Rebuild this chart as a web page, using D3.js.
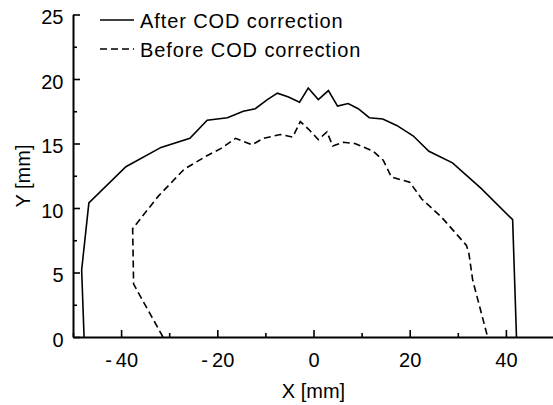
<!DOCTYPE html>
<html>
<head>
<meta charset="utf-8">
<script src="https://cdn.jsdelivr.net/npm/d3@7"></script>
<style>
  body { margin: 0; background: #fff; }
  svg { display: block; font-family: "Liberation Sans", Arial, sans-serif; }
</style>
</head>
<body>
<svg id="chart" width="553" height="405"></svg>
<script>
// values
var afterX = [-47.7, -48.2, -46.7, -39.0, -31.7, -25.7, -22.1, -17.9, -14.6, -12.1, -9.6, -7.5, -5.2, -2.9, -1.1, 1.0, 3.1, 5.0, 7.2, 9.3, 11.6, 14.4, 17.3, 20.7, 24.0, 28.9, 34.9, 41.4, 42.2];
var afterY = [0, 5.2, 10.4, 13.2, 14.7, 15.4, 16.8, 17.0, 17.5, 17.7, 18.4, 18.9, 18.6, 18.2, 19.3, 18.4, 19.1, 17.9, 18.1, 17.7, 17.0, 16.9, 16.4, 15.6, 14.4, 13.5, 11.5, 9.1, 0];
var beforeX = [-31.3, -37.4, -37.6, -32.3, -26.9, -22.4, -19.3, -16.2, -12.8, -10.4, -6.9, -4.3, -2.75, -1.0, 1.0, 2.8, 4.0, 6.2, 8.6, 12.4, 14.5, 16.2, 20.0, 22.5, 26.6, 31.8, 32.3, 33.1, 36.2];
var beforeY = [0, 4.1, 8.4, 10.9, 13.0, 14.0, 14.6, 15.4, 14.9, 15.4, 15.7, 15.5, 16.7, 16.1, 15.3, 15.9, 14.8, 15.1, 15.0, 14.4, 13.7, 12.4, 12.0, 10.7, 9.3, 7.1, 6.5, 4.4, 0];

var xTicks = [-40, -20, 0, 20, 40];
var xMinor = [-50, -30, -10, 10, 30, 50];
var yTicks = [0, 5, 10, 15, 20, 25];
var yMinor = [2.5, 7.5, 12.5, 17.5, 22.5];
var seriesNames = ["After COD correction", "Before COD correction"];
var xTitle = "X [mm]";
var yTitle = "Y [mm]";

var svg = d3.select("#chart");

var x = d3.scaleLinear().domain([-50, 50]).range([73, 554]);
var y = d3.scaleLinear().domain([0, 25]).range([337, 14.5]);

function fmt(d) {
    return d < 0 ? "-\u2009" + (-d) : String(d);
}

// minor ticks first
svg.append("g")
    .attr("transform", "translate(0," + y(0) + ")")
    .call(d3.axisBottom(x).tickValues(xMinor).tickSize(-4).tickSizeOuter(0).tickFormat(""))
    .call(function (g) { g.select(".domain").remove(); });
svg.append("g")
    .attr("transform", "translate(" + x(-50) + ",0)")
    .call(d3.axisLeft(y).tickValues(yMinor).tickSize(-4).tickSizeOuter(0).tickFormat(""))
    .call(function (g) { g.select(".domain").remove(); });

var xAxis = svg.append("g")
    .attr("transform", "translate(0," + y(0) + ")")
    .call(d3.axisBottom(x).tickValues(xTicks).tickSize(-7).tickSizeOuter(0).tickPadding(16).tickFormat(fmt));

var yAxis = svg.append("g")
    .attr("transform", "translate(" + x(-50) + ",0)")
    .call(d3.axisLeft(y).tickValues(yTicks).tickSize(-7).tickSizeOuter(0).tickPadding(9.5).tickFormat(fmt));
yAxis.selectAll(".tick text").attr("dy", "0.45em");

svg.selectAll(".tick line").attr("stroke", "#000").attr("stroke-width", 1.6);
svg.selectAll(".domain").attr("stroke", "#000").attr("stroke-width", 2);
svg.selectAll(".tick text")
    .attr("fill", "#000")
    .style("font-size", "20px")
    .style("font-family", "'Liberation Sans', Arial, sans-serif");

// axis titles
svg.append("text")
    .attr("x", x(0))
    .attr("y", 398)
    .attr("text-anchor", "middle")
    .style("font-size", "20px")
    .text(xTitle);

svg.append("text")
    .attr("transform", "translate(30," + 176 + ") rotate(-90)")
    .attr("text-anchor", "middle")
    .style("font-size", "20px")
    .text(yTitle);

// curves
var line = d3.line()
    .x(function (d) { return x(d[0]); })
    .y(function (d) { return y(d[1]); });

var afterPts = afterX.map(function (v, i) { return [v, afterY[i]]; });
var beforePts = beforeX.map(function (v, i) { return [v, beforeY[i]]; });

svg.append("path")
    .datum(afterPts)
    .attr("d", line)
    .attr("fill", "none")
    .attr("stroke", "#000")
    .attr("stroke-width", 1.6);

svg.append("path")
    .datum(beforePts)
    .attr("d", line)
    .attr("fill", "none")
    .attr("stroke", "#000")
    .attr("stroke-width", 1.6)
    .attr("stroke-dasharray", "7,4");

// legend
var legend = svg.append("g");
var dashes = [null, "7,4"];
seriesNames.forEach(function (name, i) {
    var ly = 20 + i * 29;
    legend.append("line")
        .attr("x1", 100).attr("x2", 134)
        .attr("y1", ly).attr("y2", ly)
        .attr("stroke", "#000")
        .attr("stroke-width", 1.6)
        .attr("stroke-dasharray", dashes[i]);
    legend.append("text")
        .attr("x", 140)
        .attr("y", ly + 8)
        .style("font-size", "20px")
        .style("letter-spacing", "0.9px")
        .text(name);
});
</script>
</body>
</html>
